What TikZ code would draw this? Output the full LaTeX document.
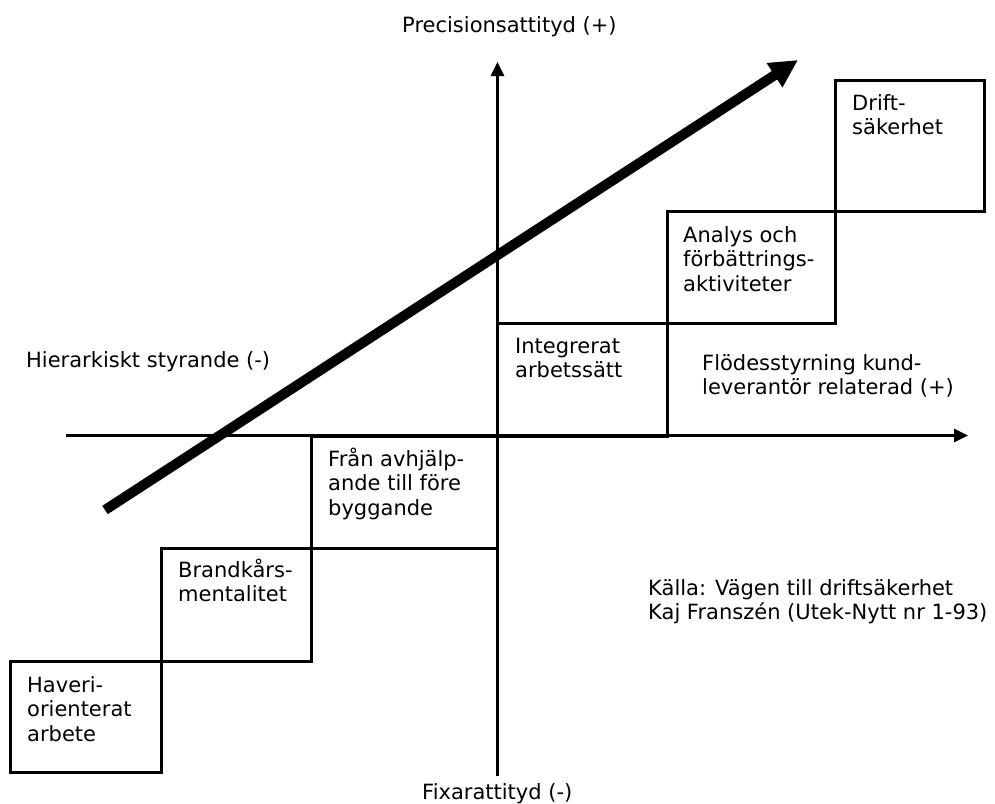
\documentclass[tikz,border=0pt]{standalone}
\usepackage{fontspec}
\setmainfont{DejaVu Sans}
\usetikzlibrary{arrows.meta}
\begin{document}
\begin{tikzpicture}[x=1pt,y=-1pt,
  stage/.style={draw=black, line width=3pt},
  axis/.style={line width=2.6pt, -{Triangle[length=14pt,width=13pt]}},
  lbl/.style={inner sep=0pt, anchor=base west, align=left,
    font=\fontsize{21}{24.5}\selectfont},
  trend/.style={line width=10pt, -{Triangle[length=28pt,width=27pt]}}]
\useasboundingbox (0,0) rectangle (995,803);

% staircase of development stages
\draw[stage] (10,661) rectangle (161,772);
\draw[stage] (161,548) rectangle (311.5,661);
\draw[stage] (311.5,436) rectangle (497.5,548);
\draw[stage] (497.5,323) rectangle (667,436);
\draw[stage] (667,211) rectangle (835,323);
\draw[stage] (835,80) rectangle (984,211);

% axes
\coordinate (xl) at (66,435.5);
\coordinate (xr) at (968,435.5);
\coordinate (yb) at (497.5,776);
\coordinate (yt) at (497.5,62);
\draw[axis] (xl) -- (xr);
\draw[axis] (yb) -- (yt);

% overall trend
\coordinate (tail) at (105,510);
\coordinate (head) at (798,60);
\draw[trend] (tail) -- (head);

% axis labels (multi-line nodes are placed by the baseline of their last line)
\node[lbl] (ytop) at (402,32) {Precisionsattityd (+)};
\node[lbl] (ybot) at (422,799) {Fixarattityd (-)};
\node[lbl] (xleft) at (26,367) {Hierarkiskt styrande (-)};
\node[lbl] (xright) at (702,394.5) {Flödesstyrning kund-\\leverantör relaterad (+)};

% stage texts
\node[lbl] (s1) at (27,741) {Haveri-\\orienterat\\arbete};
\node[lbl] (s2) at (178,601.5) {Brandkårs-\\mentalitet};
\node[lbl] (s3) at (328,515) {Från avhjälp-\\ande till före\\byggande};
\node[lbl] (s4) at (515,377.5) {Integrerat\\arbetssätt};
\node[lbl] (s5) at (683,291) {Analys och\\förbättrings-\\aktiviteter};
\node[lbl] (s6) at (852,134.5) {Drift-\\säkerhet};

% source
\node[lbl] (src) at (648,619.5) {Källa: Vägen till driftsäkerhet\\Kaj Franszén (Utek-Nytt nr 1-93)};
\end{tikzpicture}
\end{document}
